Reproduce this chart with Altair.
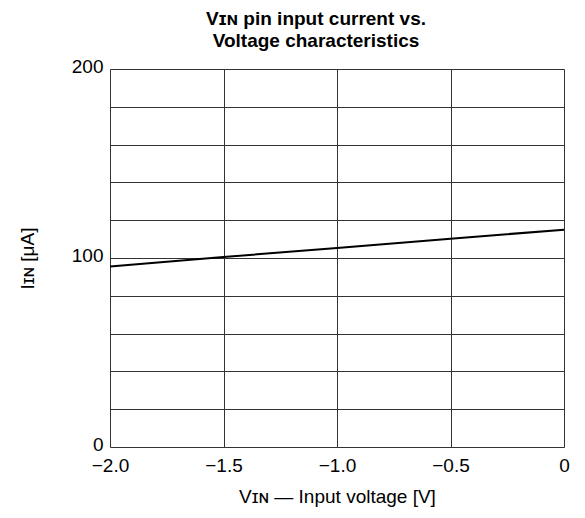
import altair as alt
import pandas as pd

voltage = [-2.0, -1.5, -1.0, -0.5, 0.0]
current = [95.5, 100.5, 105.3, 110.2, 115.0]

x_ticks = [-2.0, -1.5, -1.0, -0.5, 0.0]
y_grid = [0, 20, 40, 60, 80, 100, 120, 140, 160, 180, 200]

title_lines = ["V\u026a\u0274 pin input current vs.", "Voltage characteristics"]
x_title = "V\u026a\u0274 \u2014 Input voltage [V]"
y_title = "I\u026a\u0274 [\u03bcA]"

df = pd.DataFrame({"v": voltage, "i": current})

FONT = "Liberation Sans"

chart = alt.Chart(df).mark_line(color="black", strokeWidth=2).encode(
    x=alt.X("v:Q", scale=alt.Scale(domain=[-2, 0], nice=False, zero=False),
            axis=alt.Axis(values=x_ticks, title=x_title, grid=True, ticks=False, domain=False,
                          labelExpr="datum.value == 0 ? '0' : replace(format(datum.value, '.1f'), '-', '\u2212')",
                          labelFontSize=19, labelPadding=9, titleFontSize=19, titleFontWeight="normal",
                          titlePadding=12, labelFont=FONT, titleFont=FONT, labelColor="black", titleColor="black",
                          gridColor="#333333", gridWidth=1, gridOpacity=1, labelFlush=False)),
    y=alt.Y("i:Q", scale=alt.Scale(domain=[0, 200], nice=False),
            axis=alt.Axis(values=y_grid, title=y_title, grid=True, ticks=False, domain=False,
                          labelExpr="datum.value % 100 == 0 ? datum.label : ''",
                          labelFontSize=19, labelPadding=7, labelOffset=-3, titleFontSize=19, titleFontWeight="normal",
                          titlePadding=34, labelFont=FONT, titleFont=FONT, labelColor="black", titleColor="black",
                          gridColor="#333333", gridWidth=1, gridOpacity=1, labelFlush=False)),
).properties(
    width=454, height=378,
    padding={"left": 10, "top": 2, "right": 5, "bottom": 5},
    title=alt.TitleParams(title_lines, fontSize=19, font=FONT, fontWeight="bold", color="black",
                          anchor="middle", dx=-21, offset=6, lineHeight=22),
).configure_view(
    stroke="black", strokeWidth=2
).configure(background="white")

chart.save("out.html", embed_options={"renderer": "svg", "actions": False})
